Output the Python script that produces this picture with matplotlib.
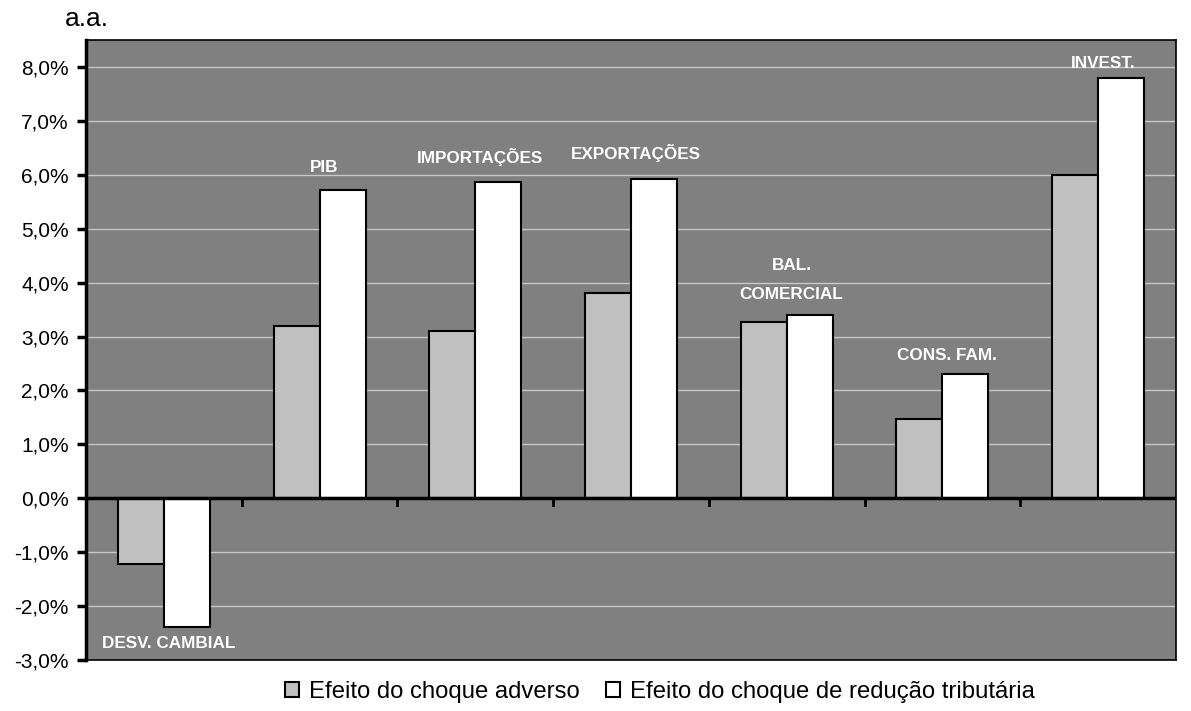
import numpy as np
import matplotlib as mpl
import matplotlib.pyplot as plt
from matplotlib.ticker import FuncFormatter, FixedLocator

# Data
categories = ['DESV. CAMBIAL', 'PIB', 'IMPORTAÇÕES', 'EXPORTAÇÕES',
              'BAL.\n\nCOMERCIAL', 'CONS. FAM.', 'INVEST.']
adverso = [-1.22, 3.2, 3.1, 3.8, 3.27, 1.47, 6.0]
reducao = [-2.38, 5.72, 5.87, 5.93, 3.39, 2.3, 7.8]
series_names = ['Efeito do choque adverso', 'Efeito do choque de redução tributária']

# label anchor heights (data units)
label_y = [-2.69, 6.14, 6.33, 6.4, 4.05, 2.65, 8.07]

mpl.rcParams['font.family'] = ['Liberation Sans', 'DejaVu Sans']

fig = plt.figure(figsize=(11.91, 7.11), dpi=100)
ax = fig.add_axes([86 / 1191, 51 / 711, 1090 / 1191, 620 / 711])
ax.set_facecolor('#808080')

x = np.arange(len(categories))
w = 0.295
ax.bar(x - w / 2, adverso, w, color='#c0c0c0', edgecolor='black', lw=1.5,
       label=series_names[0], zorder=3)
ax.bar(x + w / 2, reducao, w, color='white', edgecolor='black', lw=1.5,
       label=series_names[1], zorder=3)

for i, name in enumerate(categories):
    ax.text(x[i] + 0.03, label_y[i], name, color='white', fontsize=12.3,
            fontweight='bold', ha='center', va='center', zorder=4,
            linespacing=0.95)

ax.set_xlim(-0.5, len(categories) - 0.5)
ax.set_ylim(-3, 8.5)
ax.yaxis.set_major_locator(FixedLocator(np.arange(-3, 9, 1)))
ax.yaxis.set_major_formatter(FuncFormatter(lambda v, p: ('%.1f%%' % v).replace('.', ',')))
ax.grid(axis='y', color='#c8c8c8', lw=1.0, zorder=1)
ax.set_xticks([])

ax.axhline(0, color='black', lw=2.5, zorder=4)
for b in np.arange(0.5, len(categories) - 1, 1.0):
    ax.plot([b, b], [0, -0.12], color='black', lw=2, zorder=4, clip_on=False)

ax.spines['left'].set_linewidth(2.5)
for s in ['top', 'right', 'bottom']:
    ax.spines[s].set_linewidth(1.2)
ax.tick_params(axis='y', direction='out', length=6.5, width=2.5, labelsize=15, pad=6)

fig.text(65 / 1191, 1 - 19 / 711, 'a.a.', fontsize=19, va='center', ha='left')

fig.legend(loc='center left', bbox_to_anchor=(285 / 1191, 1 - 692 / 711), ncol=2,
           frameon=False, fontsize=17.2, handlelength=0.6, handleheight=0.6,
           handletextpad=0.4, columnspacing=1.1, borderpad=0, borderaxespad=0)

fig.savefig('out.png', dpi=100)
